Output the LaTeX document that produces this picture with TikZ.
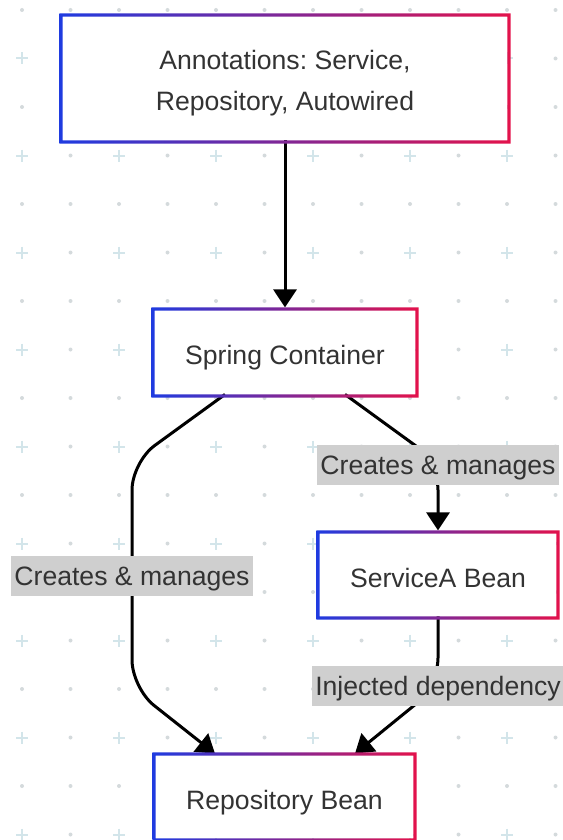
\documentclass[tikz,border=0pt]{standalone}
\usepackage{fontspec}
\setmainfont{Liberation Sans}
\usepackage{xcolor}
\usepackage{tikz}
\usetikzlibrary{positioning, arrows.meta}
\definecolor{frameblue}{HTML}{1F3BE0}
\definecolor{framered}{HTML}{E3124B}
\definecolor{labelgrey}{HTML}{CFCFCF}
\definecolor{textgrey}{HTML}{333333}
\definecolor{gridplus}{HTML}{D3E5EA}
\definecolor{griddot}{HTML}{D4DADC}
\frenchspacing

\begin{document}
\begin{tikzpicture}[x=0.5pt, y=-0.5pt,
    box/.style={fill=white, text=textgrey, align=center, inner sep=0pt,
                text height=14pt, text depth=2pt,
                font=\fontsize{13.3}{20.5}\selectfont},
    flow/.style={draw=black, line width=1.5pt, rounded corners=14pt,
                 -{Triangle[length=9pt, width=11.5pt]}, shorten >=1.6pt},
    edgelabel/.style={fill=labelgrey, text=textgrey, sharp corners,
                      inner xsep=1.5pt, inner ysep=0pt,
                      text height=14.5pt, text depth=5.5pt,
                      font=\fontsize{13.3}{16}\selectfont}]
  \useasboundingbox (0,0) rectangle (562,840);

  % dotted background
  \foreach \y in {10,107,...,840}
    \foreach \x in {22,70.5,...,562}
      \fill[griddot] (\x,\y) circle (1pt);
  \foreach \y in {58.5,155.5,...,840} {
    \foreach \x in {70.5,167.5,...,562}
      \fill[griddot] (\x,\y) circle (1pt);
    \foreach \x in {22,119,...,562}
      \draw[gridplus, line width=1pt] ({\x-6},\y) -- ({\x+6},\y) (\x,{\y-6}) -- (\x,{\y+6});
  }

  % boxes
  \node[box, minimum width=222pt, minimum height=61.5pt,
        text height={}, text depth={}] (annot) at (285,78.5)
    {\rule{0pt}{14.2pt}Annotations: Service,\\Repository, Autowired};
  \node[box, minimum width=130pt, minimum height=41.5pt] (spring) at (285,352.5)
    {Spring Container};
  \node[box, minimum width=118pt, minimum height=41pt] (svc) at (438,575)
    {ServiceA Bean};
  \node[box, minimum width=128.5pt, minimum height=41pt] (repo) at (284.5,797)
    {Repository Bean};

  % connectors
  \draw[flow] (annot.south) -- (spring.north);
  \draw[flow] ([xshift=-30pt]spring.south) -- (132,462)
    -- (132,576) node[edgelabel] {Creates \& manages}
    -- (132,688) -- ([xshift=-33.5pt]repo.north);
  \draw[flow] ([xshift=30pt]spring.south) -- (438,462)
    node[edgelabel, yshift=-1.5pt] {Creates \& manages} -- (svc.north);
  \draw[flow] (svc.south) -- (438,686)
    node[edgelabel] {Injected dependency} -- ([xshift=34pt]repo.north);

  % gradient frames
  \foreach \n in {annot,spring,svc,repo}
    \shade[left color=frameblue, right color=framered, even odd rule]
      ([shift={(-1.6pt,-1.6pt)}]\n.south west) rectangle ([shift={(1.6pt,1.6pt)}]\n.north east)
      (\n.south west) rectangle (\n.north east);
\end{tikzpicture}
\end{document}
